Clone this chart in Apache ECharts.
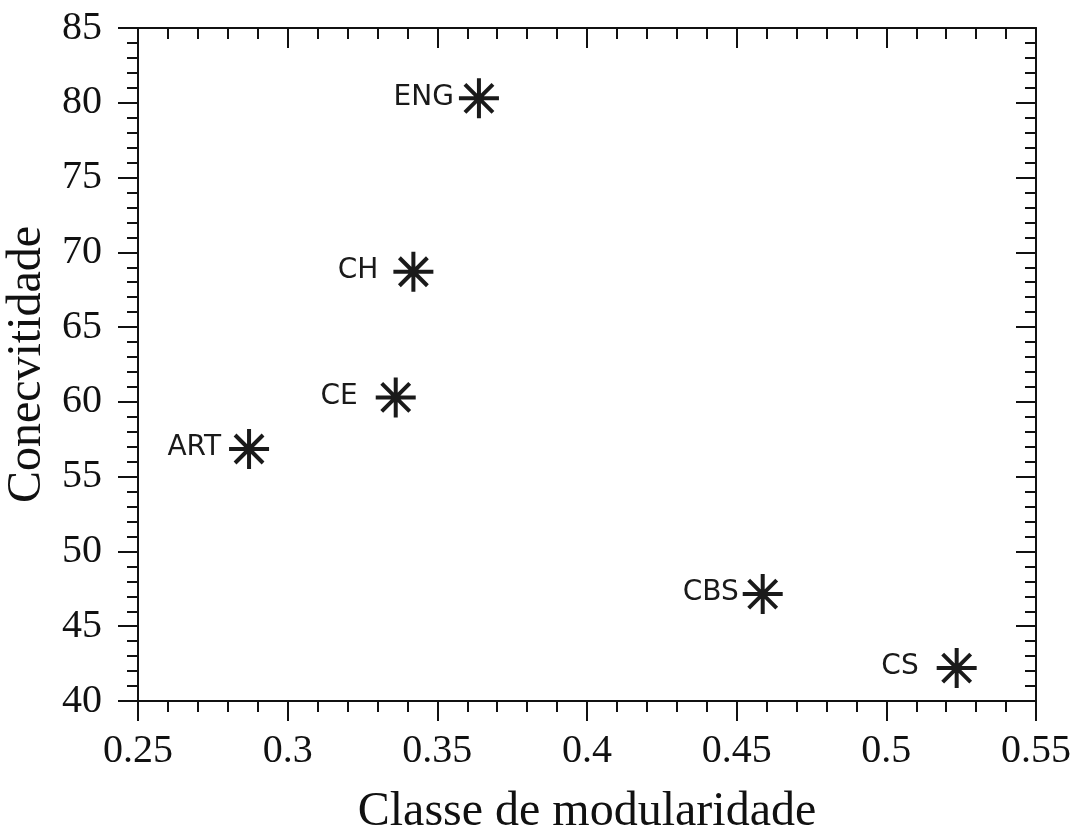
<!DOCTYPE html>
<html>
<head>
<meta charset="utf-8">
<script src="https://cdn.jsdelivr.net/npm/echarts@6/dist/echarts.min.js"></script>
<style>
  html, body { margin: 0; padding: 0; background: #fff; }
  #chart { width: 1072px; height: 834px; }
</style>
</head>
<body>
<div id="chart"></div>
<script>
// ---- data ----
const names = ['ENG', 'CH', 'CE', 'ART', 'CBS', 'CS'];
const modularity = [0.3639, 0.3420, 0.3361, 0.2871, 0.4587, 0.5235];
const connectivity = [80.3, 68.7, 60.3, 56.85, 47.15, 42.2];

const xTitle = 'Classe de modularidade';
const yTitle = 'Conecvitidade';

// ---- styling (label gaps to the left of each marker) ----
const labelGap = { ENG: 3, CH: 13, CE: 16, ART: 6, CBS: 2, CS: 16 };

const ink = '#111111';
const serif = '"Liberation Serif", "Times New Roman", serif';
const sans = '"DejaVu Sans", sans-serif';

const points = names.map((n, i) => ({
  name: n,
  value: [modularity[i], connectivity[i]],
  label: { distance: labelGap[n] }
}));

const xBase = { type: 'value', min: 0.25, max: 0.55, interval: 0.05 };
const yBase = { type: 'value', min: 40, max: 85, interval: 5 };

function axisCommon(inside, showLabel, isX) {
  return {
    axisLine: { show: true, onZero: false, lineStyle: { color: ink, width: 2 } },
    axisTick: { show: true, inside: inside, length: 20, lineStyle: { color: ink, width: 2 } },
    minorTick: { show: true, splitNumber: 5, length: 11, lineStyle: { color: ink, width: 2 } },
    splitLine: { show: false },
    minorSplitLine: { show: false },
    axisLabel: {
      show: showLabel,
      margin: isX ? 30 : 36,
      color: ink,
      fontFamily: serif,
      fontSize: 40,
      formatter: v => String(+v.toFixed(2))
    }
  };
}

const chart = echarts.init(document.getElementById('chart'), null, { renderer: 'canvas' });
chart.setOption({
  animation: false,
  backgroundColor: '#ffffff',
  grid: { left: 138, top: 28, right: 36, bottom: 133, containLabel: false, outerBoundsMode: 'none' },
  xAxis: [
    Object.assign({}, xBase, axisCommon(false, true, true), {
      position: 'bottom',
      name: xTitle,
      nameLocation: 'middle',
      nameGap: 87,
      nameTextStyle: { color: ink, fontFamily: serif, fontSize: 48 }
    }),
    Object.assign({}, xBase, axisCommon(true, false, true), { position: 'top' })
  ],
  yAxis: [
    Object.assign({}, yBase, axisCommon(false, true, false), {
      position: 'left',
      name: yTitle,
      nameLocation: 'middle',
      nameGap: 85,
      nameRotate: 90,
      nameTextStyle: { color: ink, fontFamily: serif, fontSize: 48 }
    }),
    Object.assign({}, yBase, axisCommon(true, false, false), { position: 'right' })
  ],
  series: [{
    type: 'scatter',
    xAxisIndex: 0,
    yAxisIndex: 0,
    symbol: 'path://M0,20L40,20M20,0L20,40M6,6L34,34M34,6L6,34',
    symbolSize: 40,
    itemStyle: { color: 'rgba(0,0,0,0)', borderColor: '#1a1a1a', borderWidth: 4, opacity: 1 },
    label: {
      show: true,
      position: 'left',
      formatter: p => p.name,
      color: '#1a1a1a',
      fontFamily: sans,
      fontSize: 28,
      offset: [0, -1]
    },
    emphasis: { disabled: true },
    data: points
  }]
});
</script>
</body>
</html>
